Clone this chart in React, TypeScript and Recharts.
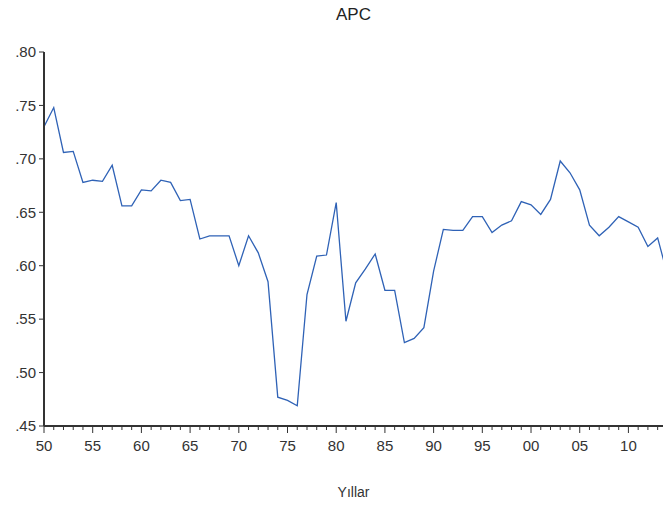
import { LineChart, Line, XAxis, YAxis } from 'recharts';

const years = [
  1950, 1951, 1952, 1953, 1954, 1955, 1956, 1957, 1958, 1959,
  1960, 1961, 1962, 1963, 1964, 1965, 1966, 1967, 1968, 1969,
  1970, 1971, 1972, 1973, 1974, 1975, 1976, 1977, 1978, 1979,
  1980, 1981, 1982, 1983, 1984, 1985, 1986, 1987, 1988, 1989,
  1990, 1991, 1992, 1993, 1994, 1995, 1996, 1997, 1998, 1999,
  2000, 2001, 2002, 2003, 2004, 2005, 2006, 2007, 2008, 2009,
  2010, 2011, 2012, 2013, 2014,
];

const apc = [
  0.730, 0.748, 0.706, 0.707, 0.678, 0.680, 0.679, 0.694, 0.656, 0.656,
  0.671, 0.670, 0.680, 0.678, 0.661, 0.662, 0.625, 0.628, 0.628, 0.628,
  0.600, 0.628, 0.612, 0.585, 0.477, 0.474, 0.469, 0.573, 0.609, 0.610,
  0.659, 0.548, 0.584, 0.597, 0.611, 0.577, 0.577, 0.528, 0.532, 0.542,
  0.595, 0.634, 0.633, 0.633, 0.646, 0.646, 0.631, 0.638, 0.642, 0.660,
  0.657, 0.648, 0.662, 0.698, 0.687, 0.671, 0.638, 0.628, 0.636, 0.646,
  0.641, 0.636, 0.618, 0.626, 0.592,
];

const yTicks = [0.45, 0.5, 0.55, 0.6, 0.65, 0.7, 0.75, 0.8];

const data = years.map((y, i) => ({ year: y, apc: apc[i] }));

const FONT = '"Liberation Sans", Arial, sans-serif';
const INK = '#333333';

const YearTick = (props: any) => {
  const { x, y, payload } = props;
  const yr: number = payload.value;
  const major = yr % 5 === 0;
  return (
    <g>
      <line x1={x} x2={x} y1={y} y2={y + (major ? 7 : 4)} stroke={INK} strokeWidth={1} />
      {major && (
        <text x={x} y={y + 25} textAnchor="middle" fill={INK} fontSize={15} fontFamily={FONT}>
          {String(yr % 100).padStart(2, '0')}
        </text>
      )}
    </g>
  );
};

const App = () => {
  return (
    <div style={{ position: 'absolute', left: 0, top: 0, width: 663, height: 506, background: '#fff' }}>
      <div
        style={{
          position: 'absolute', left: 44, top: 5, width: 619, textAlign: 'center',
          fontFamily: FONT, fontSize: 17, color: '#222',
        }}
      >
        APC
      </div>
      <LineChart width={663} height={506} data={data} margin={{ top: 52, right: 0, bottom: 0, left: 0 }}>
        <XAxis
          dataKey="year"
          type="number"
          domain={[1950, 2013.55]}
          allowDataOverflow
          ticks={years.slice(0, 64)}
          interval={0}
          tickSize={0}
          tickMargin={0}
          tickLine={false}
          tick={<YearTick />}
          height={80}
          axisLine={{ stroke: INK, strokeWidth: 2 }}
          label={{ value: 'Yıllar', position: 'insideBottom', offset: 9, fill: INK, fontSize: 14, fontFamily: FONT }}
        />
        <YAxis
          type="number"
          domain={[0.45, 0.8]}
          ticks={yTicks}
          width={44}
          tickSize={5}
          tickMargin={3}
          axisLine={{ stroke: INK, strokeWidth: 2 }}
          tickLine={{ stroke: INK }}
          tick={{ fill: INK, fontSize: 15, fontFamily: FONT }}
          tickFormatter={(v: number) => v.toFixed(2).replace(/^0/, '')}
        />
        <Line
          type="linear"
          dataKey="apc"
          stroke="#2f62b6"
          strokeWidth={1.3}
          dot={false}
          isAnimationActive={false}
        />
      </LineChart>
    </div>
  );
};

export default App;
